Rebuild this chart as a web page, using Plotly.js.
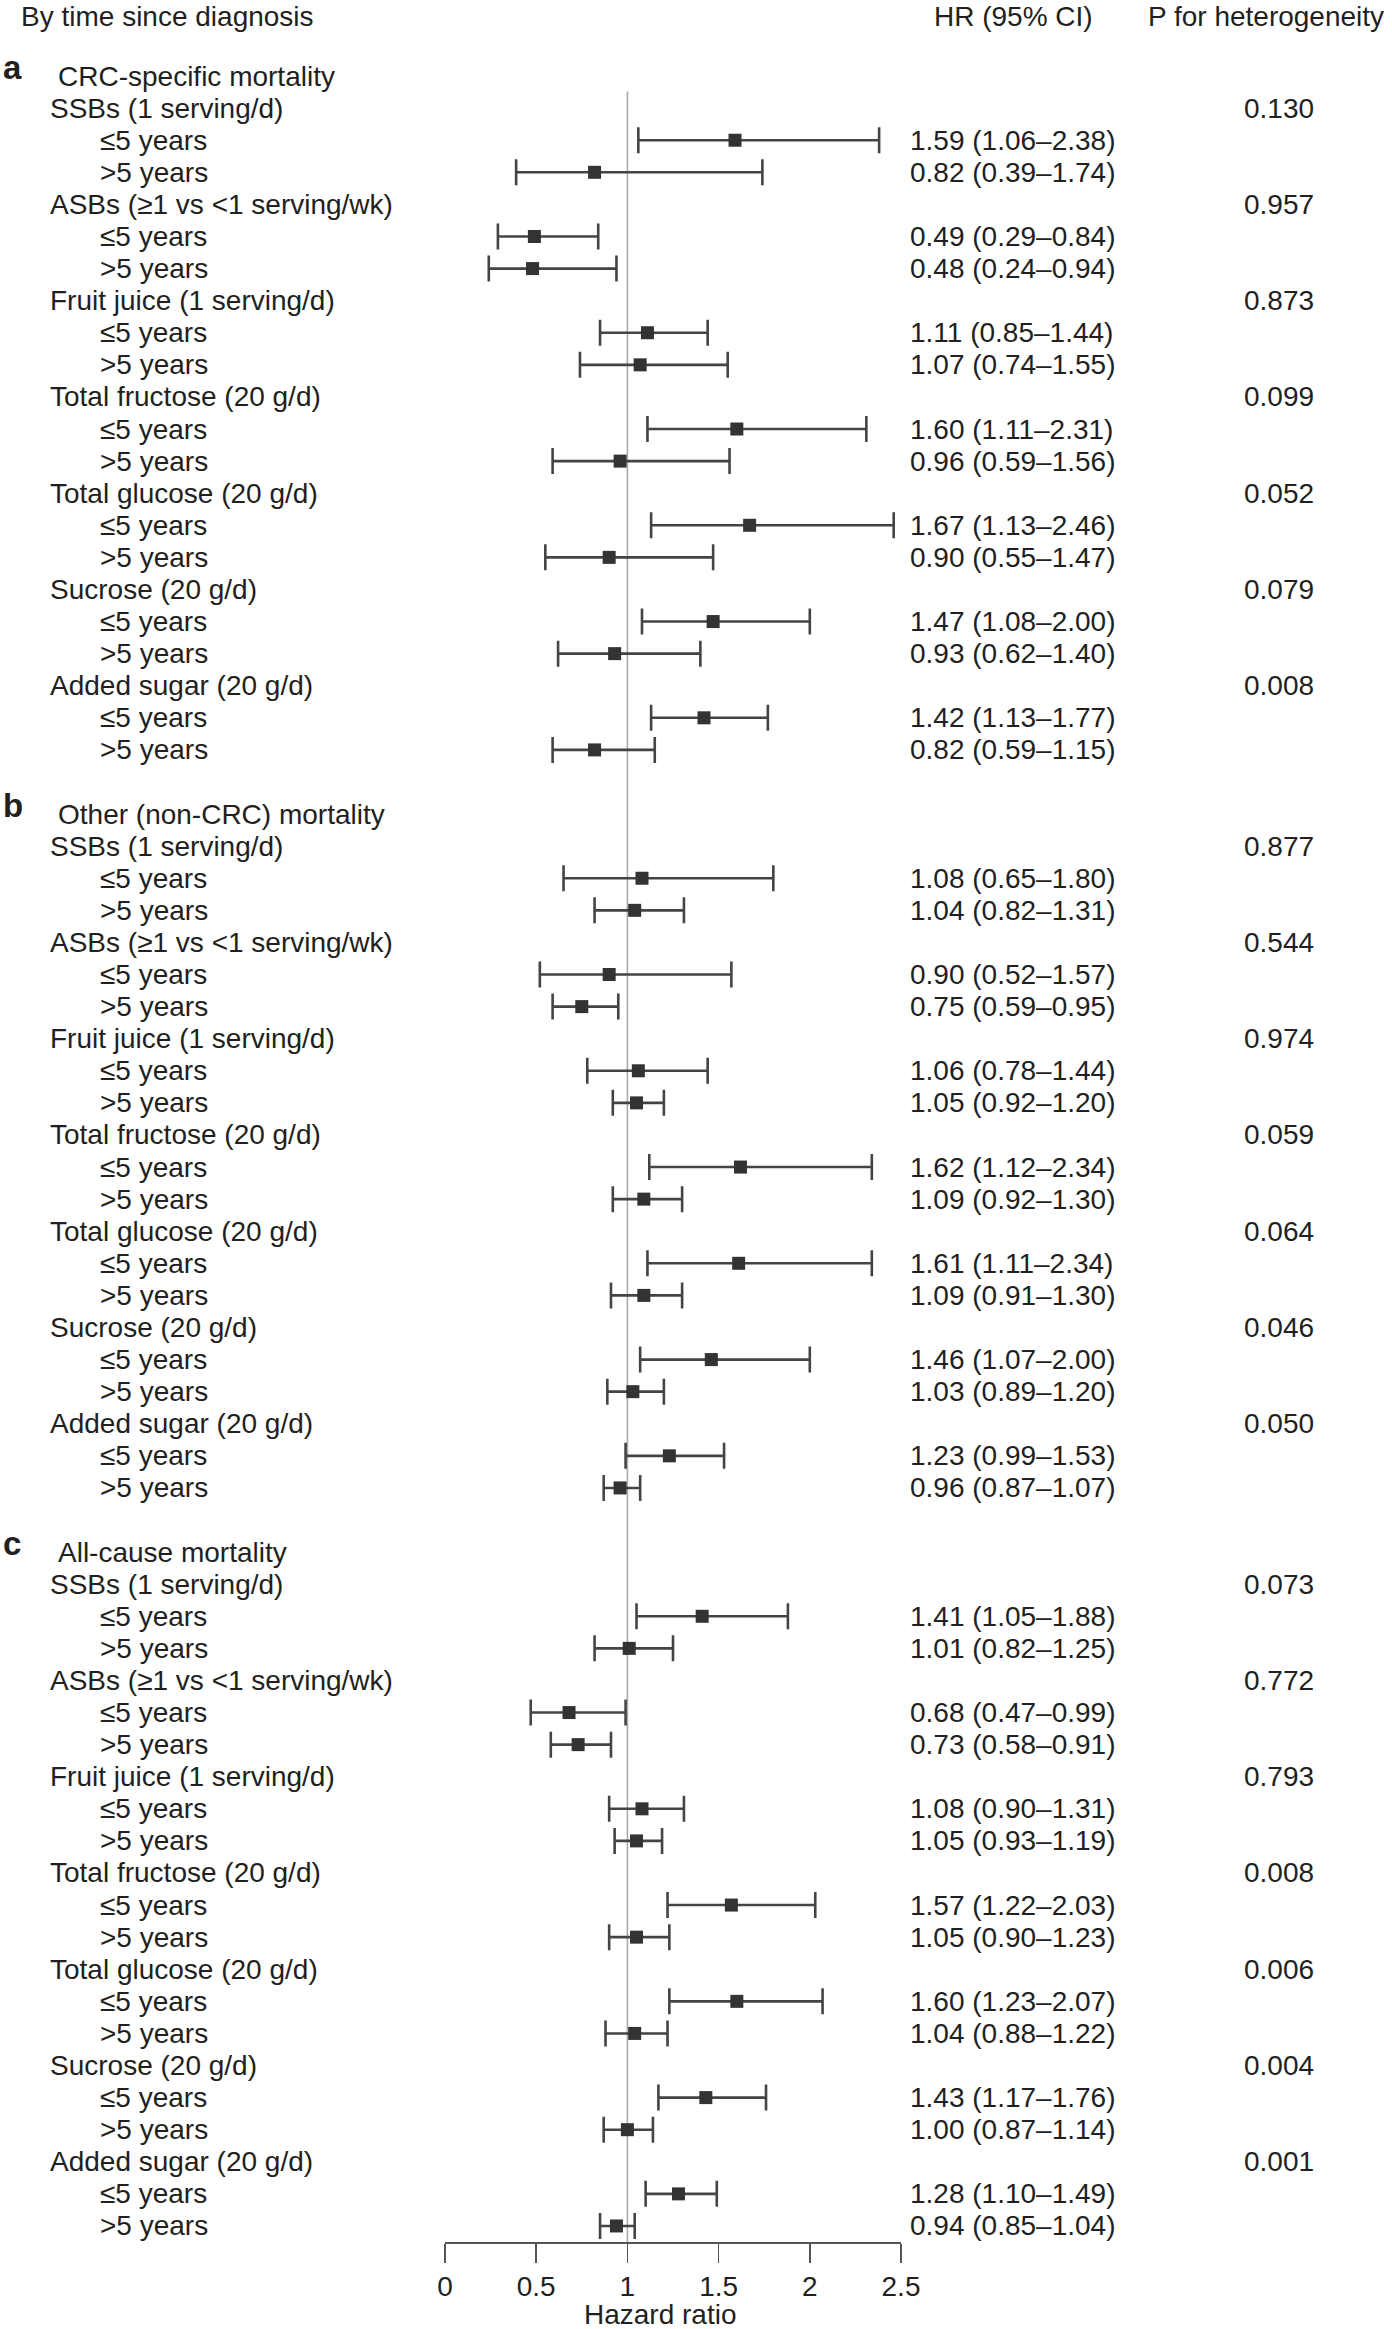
<!DOCTYPE html>
<html>
<head>
<meta charset="utf-8">
<script src="https://cdn.plot.ly/plotly-3.0.1.min.js"></script>
<style>
  html, body { margin: 0; padding: 0; background: #fff; }
  #plot { width: 1392px; height: 2329px; }
</style>
</head>
<body>
<div id="plot"></div>
<script>
// Forest plot: HR by time since diagnosis, three outcomes
const panelLetters = ['a', 'b', 'c'];
const panelTitles = ['CRC-specific mortality', 'Other (non-CRC) mortality', 'All-cause mortality'];
const exposures = [
  'SSBs (1 serving/d)', 'ASBs (≥1 vs <1 serving/wk)', 'Fruit juice (1 serving/d)',
  'Total fructose (20 g/d)', 'Total glucose (20 g/d)', 'Sucrose (20 g/d)', 'Added sugar (20 g/d)'
];
const strata = ['≤5 years', '>5 years'];
const xTicks = [0, 0.5, 1, 1.5, 2, 2.5];

// a: CRC-specific mortality (pairs: <=5, >5 per exposure)
const hrCrc = [1.59, 0.82, 0.49, 0.48, 1.11, 1.07, 1.60, 0.96, 1.67, 0.90, 1.47, 0.93, 1.42, 0.82];
const loCrc = [1.06, 0.39, 0.29, 0.24, 0.85, 0.74, 1.11, 0.59, 1.13, 0.55, 1.08, 0.62, 1.13, 0.59];
const hiCrc = [2.38, 1.74, 0.84, 0.94, 1.44, 1.55, 2.31, 1.56, 2.46, 1.47, 2.00, 1.40, 1.77, 1.15];
const pCrc = [0.130, 0.957, 0.873, 0.099, 0.052, 0.079, 0.008];

// b: other (non-CRC) mortality
const hrOther = [1.08, 1.04, 0.90, 0.75, 1.06, 1.05, 1.62, 1.09, 1.61, 1.09, 1.46, 1.03, 1.23, 0.96];
const loOther = [0.65, 0.82, 0.52, 0.59, 0.78, 0.92, 1.12, 0.92, 1.11, 0.91, 1.07, 0.89, 0.99, 0.87];
const hiOther = [1.80, 1.31, 1.57, 0.95, 1.44, 1.20, 2.34, 1.30, 2.34, 1.30, 2.00, 1.20, 1.53, 1.07];
const pOther = [0.877, 0.544, 0.974, 0.059, 0.064, 0.046, 0.050];

// c: all-cause mortality
const hrAll = [1.41, 1.01, 0.68, 0.73, 1.08, 1.05, 1.57, 1.05, 1.60, 1.04, 1.43, 1.00, 1.28, 0.94];
const loAll = [1.05, 0.82, 0.47, 0.58, 0.90, 0.93, 1.22, 0.90, 1.23, 0.88, 1.17, 0.87, 1.10, 0.85];
const hiAll = [1.88, 1.25, 0.99, 0.91, 1.31, 1.19, 2.03, 1.23, 2.07, 1.22, 1.76, 1.14, 1.49, 1.04];
const pAll = [0.073, 0.772, 0.793, 0.008, 0.006, 0.004, 0.001];

const panels = [
  { hr: hrCrc, lo: loCrc, hi: hiCrc, p: pCrc },
  { hr: hrOther, lo: loOther, hi: hiOther, p: pOther },
  { hr: hrAll, lo: loAll, hi: hiAll, p: pAll },
];

(function () {
  const W = 1392, H = 2329;
  const FONT = 'Liberation Sans, Arial, Helvetica, sans-serif';
  const FS = 28, TXT = '#231f20';
  const PANEL_STEP = 23;           // rows between panel starts
  const px = v => v / W;           // paper x from pixel x
  const esc = s => s.replace(/</g, '&lt;').replace(/>/g, '&gt;');

  const traces = [], ann = [];
  const txt = (text, xPix, row, extra) => ann.push(Object.assign({
    text: esc(text), xref: 'paper', yref: 'y', x: px(xPix), y: row,
    xanchor: 'left', yanchor: 'middle', showarrow: false,
    font: { family: FONT, size: FS, color: TXT }
  }, extra || {}));

  // column headers (nudged down so they sit inside the page)
  txt('By time since diagnosis', 19, -3, { yshift: -5 });
  txt('HR (95% CI)', 932, -3, { yshift: -5 });
  txt('P for heterogeneity', 1146, -3, { yshift: -5 });

  panels.forEach((pn, p) => {
    const base = p * PANEL_STEP;
    txt(panelLetters[p], 1, base - 1, { font: { family: FONT, size: 33, color: TXT, weight: 'bold' }, yshift: 9 });
    txt(panelTitles[p], 56, base - 1);

    const ys = [];
    exposures.forEach((ex, g) => {
      const gRow = base + g * 3;
      txt(ex, 48, gRow);
      txt(pn.p[g].toFixed(3), 1279, gRow, { xanchor: 'center' });
      strata.forEach((st, s) => {
        const i = g * 2 + s, row = gRow + 1 + s;
        txt(st, 98, row);
        txt(pn.hr[i].toFixed(2) + ' (' + pn.lo[i].toFixed(2) + '–' + pn.hi[i].toFixed(2) + ')', 908, row);
        ys.push(row);
      });
    });

    traces.push({
      type: 'scatter', mode: 'markers', x: pn.hr, y: ys,
      marker: { symbol: 'square', size: 13, color: '#333' },
      error_x: {
        type: 'data', symmetric: false,
        array: pn.hi.map((v, i) => v - pn.hr[i]),
        arrayminus: pn.hr.map((v, i) => v - pn.lo[i]),
        color: '#444', thickness: 2.6, width: 13
      },
      hoverinfo: 'skip', showlegend: false
    });
  });

  // axis title
  ann.push({
    text: 'Hazard ratio', xref: 'paper', yref: 'paper', x: px(660), y: -72 / 2242,
    xanchor: 'center', yanchor: 'middle', showarrow: false,
    font: { family: FONT, size: FS, color: TXT }
  });

  const layout = {
    width: W, height: H,
    margin: { l: 0, r: 0, t: 0, b: H - 2242 },
    paper_bgcolor: '#fff', plot_bgcolor: '#fff',
    font: { family: FONT, size: FS, color: TXT },
    xaxis: {
      domain: [px(445), px(901)], range: [0, 2.5],
      tickvals: xTicks, ticktext: xTicks.map(String),
      ticks: 'outside', ticklen: 19, tickwidth: 1.8, tickcolor: '#555',
      showline: true, linecolor: '#555', linewidth: 1.8,
      showgrid: false, zeroline: false,
      tickfont: { family: FONT, size: FS, color: TXT }
    },
    yaxis: { range: [66.5, -3.37], visible: false, showgrid: false, zeroline: false },
    shapes: [{
      type: 'line', xref: 'x', yref: 'y', x0: 1, x1: 1, y0: -0.52, y1: 66.5,
      line: { color: '#aaa', width: 1.6 }, layer: 'below'
    }],
    annotations: ann,
    showlegend: false
  };

  Plotly.newPlot('plot', traces, layout, { staticPlot: true, displayModeBar: false });
})();
</script>
</body>
</html>
